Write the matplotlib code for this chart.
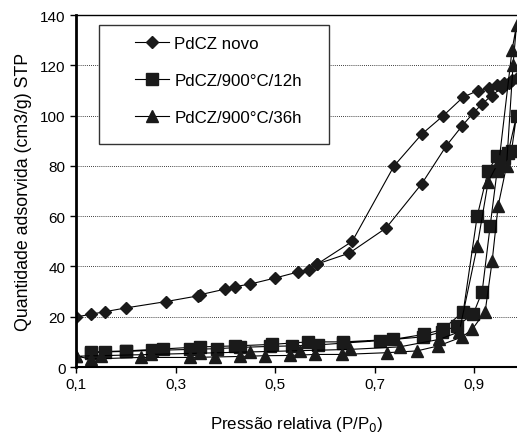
import matplotlib
matplotlib.use("Agg")
import matplotlib.pyplot as plt
from matplotlib.patches import Rectangle

plt.rcParams['font.family'] = ['Liberation Sans', 'DejaVu Sans']

# PdCZ novo: adsorption then desorption
novo_p = [0.10, 0.13, 0.158, 0.20, 0.28, 0.345, 0.35, 0.40, 0.42, 0.45, 0.50, 0.546, 0.568,
          0.585, 0.649, 0.723, 0.795, 0.844, 0.876, 0.898, 0.915, 0.935, 0.955, 0.97, 0.985,
          0.975, 0.96, 0.945, 0.93, 0.908, 0.878, 0.838, 0.795, 0.739, 0.655, 0.585]
novo_q = [19.9, 21, 22, 23.5, 26, 28.3, 28.8, 31, 32, 33, 35.4, 37.8, 38.6,
          41, 45.3, 55.3, 73, 88, 96, 101, 104.5, 108, 111, 113, 115,
          114, 113, 112, 111, 110, 107.4, 100, 92.7, 80, 50, 41]

# PdCZ/900°C/12h
h12_p = [0.13, 0.158, 0.20, 0.253, 0.33, 0.383, 0.43, 0.49, 0.534, 0.586, 0.637, 0.711, 0.797,
         0.836, 0.866, 0.898, 0.916, 0.932, 0.946, 0.96, 0.975, 0.985,
         0.968, 0.946, 0.928, 0.906, 0.878, 0.837, 0.80, 0.737, 0.637, 0.566, 0.494, 0.42,
         0.35, 0.275, 0.20, 0.13]
h12_q = [5.5, 6, 6.2, 6.6, 7, 7.3, 7.8, 8.2, 8.4, 8.8, 9.5, 10.5, 12,
         14, 16.5, 21, 30, 56, 78, 83, 86, 100,
         85, 84, 78, 60, 22, 15, 13, 11, 10, 10, 9, 8.4,
         8, 7.2, 6.4, 6]

# PdCZ/900°C/36h
h36_p = [0.10, 0.13, 0.23, 0.33, 0.38, 0.43, 0.48, 0.53, 0.58, 0.635, 0.725, 0.785, 0.828,
         0.876, 0.896, 0.922, 0.936, 0.948, 0.965, 0.978, 0.985,
         0.976, 0.95, 0.928, 0.906, 0.87, 0.83, 0.75, 0.65, 0.55, 0.45, 0.35, 0.25, 0.15, 0.10]
h36_q = [4.3, 3.2, 3.8, 3.8, 4, 4.2, 4.5, 4.6, 5, 5, 5.7, 6.4, 8.4,
         12, 15, 22, 42, 64, 80, 120, 136,
         126, 82, 73.6, 48, 14, 11, 8, 7, 6.5, 6, 5.5, 5, 4.5, 4.3]

xticks = [0.1, 0.3, 0.5, 0.7, 0.9]
xticklabels = ['0,1', '0,3', '0,5', '0,7', '0,9']
yticks = [0, 20, 40, 60, 80, 100, 120, 140]

fig = plt.figure(figsize=(5.17, 4.35), dpi=100)
ax = fig.add_axes([0.147, 0.154, 0.853, 0.809])

line_kw = dict(color='black', lw=0.8, mfc='#1a1a1a', mec='#1a1a1a', clip_on=True)
ax.plot(novo_p, novo_q, marker='D', ms=6.5, label='PdCZ novo', **line_kw)
ax.plot(h12_p, h12_q, marker='s', ms=8, label='PdCZ/900°C/12h', **line_kw)
ax.plot(h36_p, h36_q, marker='^', ms=9, label='PdCZ/900°C/36h', **line_kw)

ax.set_xlim(0.1, 0.986)
ax.set_ylim(0, 140)
ax.set_xticks(xticks)
ax.set_xticklabels(xticklabels)
ax.set_yticks(yticks)
ax.tick_params(labelsize=11, direction='out', length=4, width=1)

for y in yticks[1:-1]:
    ax.axhline(y, color='black', lw=0.6, ls=(0, (1, 1.5)), zorder=0)

ax.spines['left'].set_linewidth(2)
ax.spines['bottom'].set_linewidth(1.5)
ax.spines['top'].set_linewidth(1)
ax.spines['right'].set_visible(False)

ax.set_xlabel('Pressão relativa (P/P$_0$)', fontsize=12.2, labelpad=16)
ax.set_ylabel('Quantidade adsorvida (cm3/g) STP', fontsize=12.8, labelpad=6)

ax.add_patch(Rectangle((0.052, 0.634), 0.521, 0.338, transform=ax.transAxes,
                       fill=True, fc='white', ec='#333333', lw=1, zorder=3))
ax.legend(loc='upper left', bbox_to_anchor=(0.115, 0.965), frameon=False, fontsize=12.2,
          labelspacing=1.3, handlelength=2.0, handletextpad=0.3, borderpad=0)

fig.savefig('out.png', dpi=100)
